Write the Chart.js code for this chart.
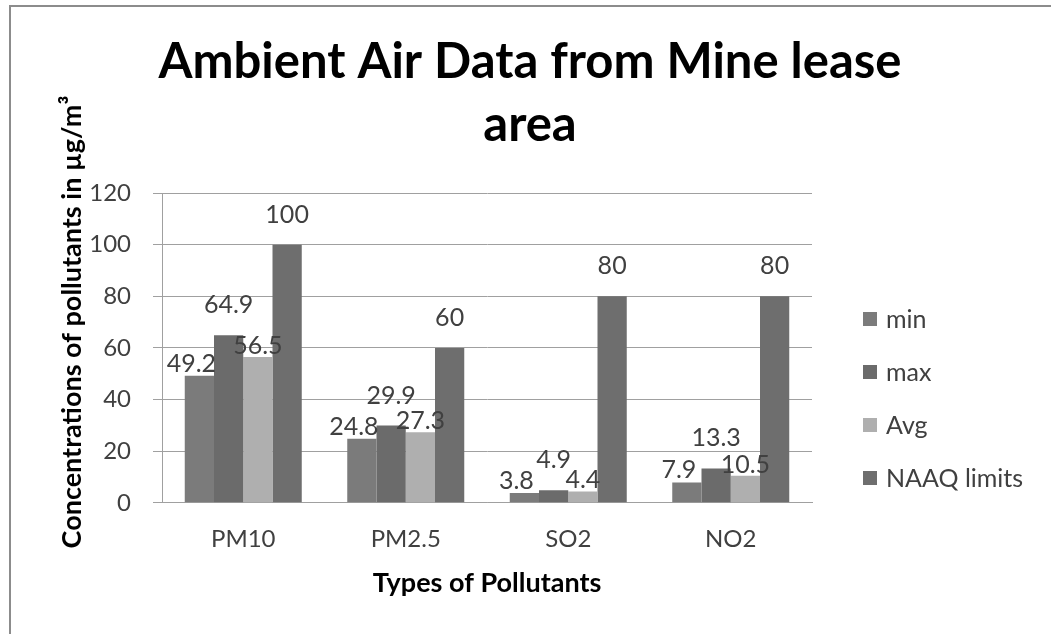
<!DOCTYPE html>
<html>
<head>
<meta charset="utf-8">
<script src="https://cdn.jsdelivr.net/npm/chart.js@4/dist/chart.umd.min.js"></script>
<style>
  html, body { margin: 0; padding: 0; background: #fff; }
  #wrap { width: 1051px; height: 634px; }
</style>
</head>
<body>
<div id="wrap"><canvas id="air" width="1051" height="634"></canvas></div>
<script>
// values
var pollutants = ['PM10', 'PM2.5', 'SO2', 'NO2'];
var minVals = [49.2, 24.8, 3.8, 7.9];
var maxVals = [64.9, 29.9, 4.9, 13.3];
var avgVals = [56.5, 27.3, 4.4, 10.5];
var naaqLimits = [100, 60, 80, 80];
var yTicks = [0, 20, 40, 60, 80, 100, 120];

var FONT = 'Lato';
var TXT = '#404040';

// value labels above each bar
var barLabels = {
    id: 'barLabels',
    afterDatasetsDraw: function(chart) {
        var ctx = chart.ctx;
        ctx.save();
        ctx.font = '25px ' + FONT;
        ctx.fillStyle = TXT;
        ctx.textAlign = 'center';
        ctx.textBaseline = 'alphabetic';
        chart.data.datasets.forEach(function(ds, i) {
            var meta = chart.getDatasetMeta(i);
            meta.data.forEach(function(bar, j) {
                ctx.fillText(String(ds.data[j]), bar.x + (ds.labelDx || 0), bar.y - (ds.labelDy || 0));
            });
        });
        ctx.restore();
    }
};

// y axis title, legend and the sheet border
var extras = {
    id: 'extras',
    afterDraw: function(chart) {
        var ctx = chart.ctx;
        var area = chart.chartArea;
        ctx.save();

        ctx.translate(72, 322);
        ctx.rotate(-Math.PI / 2);
        ctx.font = 'bold 27px ' + FONT;
        ctx.fillStyle = '#000';
        ctx.textAlign = 'center';
        ctx.textBaseline = 'middle';
        ctx.fillText('Concentrations of pollutants in µg/m³', 0, 0);
        ctx.setTransform(1, 0, 0, 1, 0, 0);

        ctx.font = '25px ' + FONT;
        ctx.textAlign = 'left';
        chart.data.datasets.forEach(function(ds, i) {
            var y = 319 + i * 53;
            ctx.fillStyle = ds.backgroundColor;
            ctx.fillRect(area.right + 51, y - 7, 14, 14);
            ctx.fillStyle = TXT;
            ctx.fillText(ds.label, area.right + 74, y + 1);
        });

        ctx.strokeStyle = '#8c8c8c';
        ctx.lineWidth = 2;
        ctx.beginPath();
        ctx.moveTo(10, 634);
        ctx.lineTo(10, 6);
        ctx.lineTo(1051, 6);
        ctx.stroke();
        ctx.restore();
    }
};

var ctx = document.getElementById('air').getContext('2d');
var myChart = new Chart(ctx, {
    type: 'bar',
    data: {
        labels: pollutants,
        datasets: [
            { label: 'min', data: minVals, backgroundColor: '#7b7b7b', yAxisID: 'y', labelDx: -8, labelDy: 4 },
            { label: 'max', data: maxVals, backgroundColor: '#6b6b6b', yAxisID: 'y', labelDy: 22 },
            { label: 'Avg', data: avgVals, backgroundColor: '#afafaf', yAxisID: 'y', labelDy: 3 },
            { label: 'NAAQ limits', data: naaqLimits, backgroundColor: '#6e6e6e', yAxisID: 'y', labelDy: 22 }
        ]
    },
    options: {
        responsive: false,
        animation: false,
        categoryPercentage: 0.72,
        barPercentage: 1,
        layout: { padding: { left: 9, right: 0, top: 0, bottom: 35 } },
        plugins: {
            legend: { display: false },
            tooltip: { enabled: false },
            title: {
                display: true,
                text: ['Ambient Air Data from Mine lease', 'area'],
                color: '#000',
                font: { family: FONT, size: 49, weight: 'bold', lineHeight: '63px' },
                padding: { top: 31, bottom: 36 }
            }
        },
        scales: {
            x: {
                grid: { display: false, drawTicks: false },
                border: { display: true, color: '#a0a0a0' },
                ticks: { color: TXT, font: { family: FONT, size: 24 }, padding: 22 },
                title: {
                    display: true,
                    text: 'Types of Pollutants',
                    color: '#000',
                    font: { family: FONT, size: 27, weight: 'bold' },
                    padding: { top: -9, bottom: 0 }
                }
            },
            y: {
                min: 0,
                max: 120,
                afterBuildTicks: function(scale) {
                    scale.ticks = yTicks.map(function(v) { return { value: v }; });
                },
                afterFit: function(scale) { scale.width = 153; },
                grid: { color: '#a0a0a0', lineWidth: 1, tickLength: 9 },
                border: { display: true, color: '#a0a0a0' },
                ticks: { color: TXT, font: { family: FONT, size: 24 }, padding: 22 }
            },
            pad: {
                type: 'linear',
                position: 'right',
                grid: { display: false, drawTicks: false },
                border: { display: false },
                ticks: { display: false },
                afterFit: function(scale) { scale.width = 239; }
            }
        }
    },
    plugins: [barLabels, extras]
});
</script>
</body>
</html>
